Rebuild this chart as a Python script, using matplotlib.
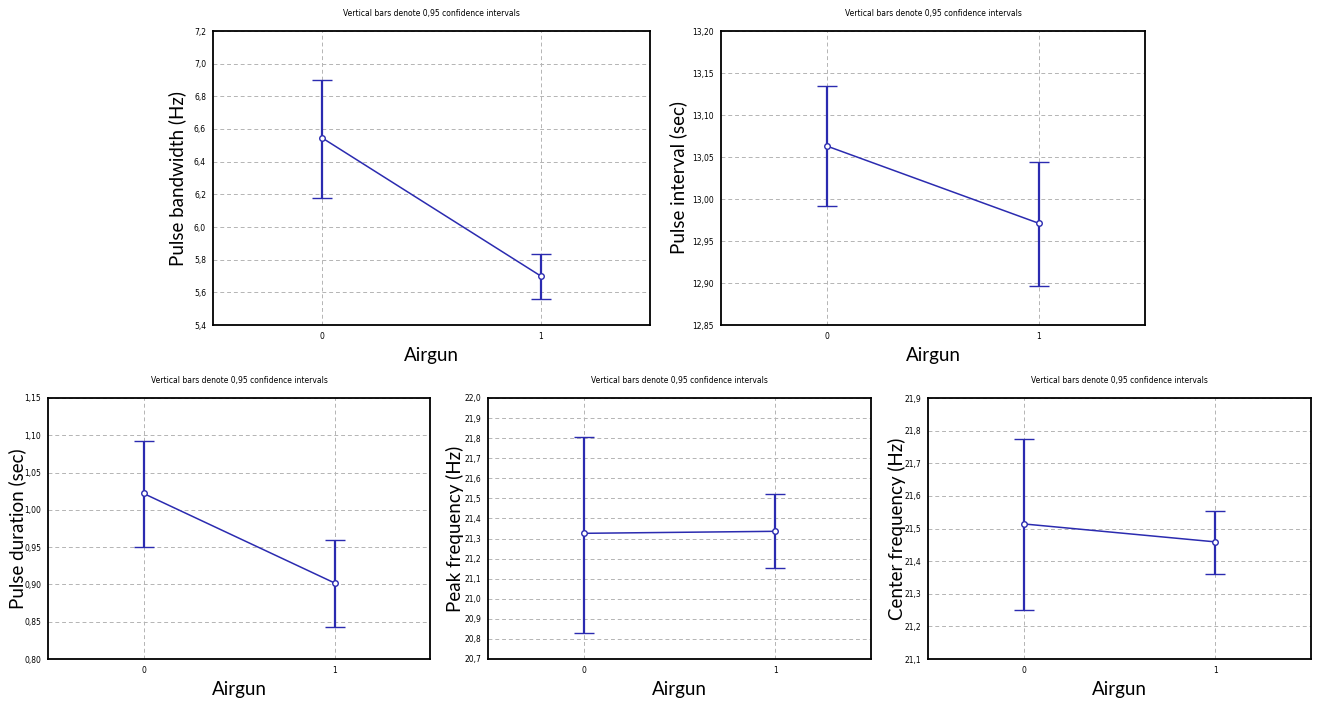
import matplotlib.pyplot as plt
import matplotlib.ticker as mticker
import numpy as np

# Airgun off (0) / on (1): means with 95% confidence limits
groups = [0, 1]

bandwidth_mean = [6.545, 5.70]
bandwidth_low = [6.18, 5.56]
bandwidth_high = [6.90, 5.834]

interval_mean = [13.063, 12.971]
interval_low = [12.992, 12.897]
interval_high = [13.134, 13.044]

duration_mean = [1.022, 0.902]
duration_low = [0.950, 0.8425]
duration_high = [1.093, 0.960]

peak_mean = [21.326, 21.336]
peak_low = [20.83, 21.152]
peak_high = [21.807, 21.522]

center_mean = [21.514, 21.459]
center_low = [21.251, 21.362]
center_high = [21.773, 21.555]

blue = '#2b2bb0'
W, H = 1318, 704

fig = plt.figure(figsize=(W / 100, H / 100), dpi=100)
plt.rcParams['font.family'] = ['DejaVu Sans']


def panel(rect_px, mean, low, high, ylim, step, ndec, ylabel, ylab_off):
    left, top, right, bottom = rect_px
    ax = fig.add_axes([left / W, 1 - bottom / H, (right - left) / W, (bottom - top) / H])
    mean = np.array(mean)
    err = [mean - np.array(low), np.array(high) - mean]
    ax.errorbar(groups, mean, yerr=err, color=blue, lw=1.1, elinewidth=1.6,
                capsize=7.5, capthick=1.6, marker='o', ms=4, mfc='white',
                mec=blue, mew=1.0, zorder=3)
    ax.set_xlim(-0.5, 1.5)
    ax.set_ylim(*ylim)
    ax.set_xticks(groups)
    ax.yaxis.set_major_locator(mticker.MultipleLocator(step))
    ax.yaxis.set_major_formatter(mticker.FuncFormatter(
        lambda v, p: f"{v:.{ndec}f}".replace('.', ',')))
    ax.tick_params(length=0, labelsize=5.5, pad=5)
    ax.grid(True, color='#b4b4b4', ls=(0, (4, 3)), lw=0.7)
    for s in ax.spines.values():
        s.set_linewidth(1.3)
    ax.set_title('Vertical bars denote 0,95 confidence intervals', fontsize=5.5, pad=11)
    ax.set_ylabel(ylabel, family='Lato', fontsize=13.5)
    ax.yaxis.set_label_coords(-ylab_off / (right - left), 0.5)
    ax.set_xlabel('Airgun', family='Lato', fontsize=13.5, labelpad=4)
    return ax


panel((213, 31, 650, 325), bandwidth_mean, bandwidth_low, bandwidth_high,
      (5.4, 7.2), 0.2, 1, 'Pulse bandwidth (Hz)', 27)
panel((721, 31, 1145, 325), interval_mean, interval_low, interval_high,
      (12.85, 13.20), 0.05, 2, 'Pulse interval (sec)', 34)
panel((48, 398, 430, 659), duration_mean, duration_low, duration_high,
      (0.80, 1.15), 0.05, 2, 'Pulse duration (sec)', 22)
panel((488, 398, 871, 659), peak_mean, peak_low, peak_high,
      (20.7, 22.0), 0.1, 1, 'Peak frequency (Hz)', 24)
panel((928, 398, 1311, 659), center_mean, center_low, center_high,
      (21.1, 21.9), 0.1, 1, 'Center frequency (Hz)', 22)

fig.savefig('out.png', dpi=100)
